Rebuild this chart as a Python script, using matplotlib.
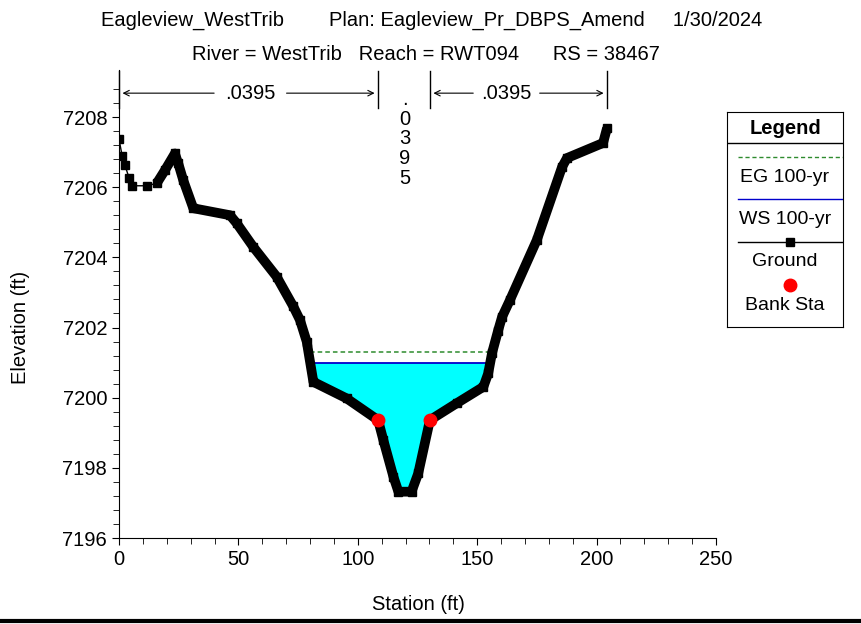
import numpy as np
import matplotlib.pyplot as plt
from matplotlib.lines import Line2D

plt.rcParams['font.family'] = ['Liberation Sans', 'DejaVu Sans']

# ground profile
station = [0, 1.3, 2.5, 4.2, 5.6, 11.6, 15.8, 19.3, 23.4, 24.8, 26.9, 31.1, 46.5, 49.3,
           56.2, 66.0, 73.0, 75.8, 78.6, 81.4, 95.3, 108.5, 110.7, 114.9, 117.0, 122.5,
           125.3, 130.2, 141.4, 152.6, 154.6, 156.2, 158.7, 160.4, 163.7, 175.0, 185.5,
           187.6, 202.7, 204.4]
ground = [7207.37, 7206.90, 7206.62, 7206.27, 7206.04, 7206.04, 7206.11, 7206.49, 7206.96,
          7206.68, 7206.20, 7205.40, 7205.20, 7204.97, 7204.30, 7203.45, 7202.60, 7202.21,
          7201.60, 7200.45, 7199.98, 7199.36, 7198.79, 7197.75, 7197.32, 7197.32, 7197.84,
          7199.36, 7199.84, 7200.31, 7200.69, 7201.27, 7201.90, 7202.30, 7202.78, 7204.50,
          7206.57, 7206.83, 7207.26, 7207.69]
bank_sta = [108.5, 130.2]
bank_elev = [7199.36, 7199.36]
ws_elev = 7201.00
eg_elev = 7201.31
ws_range = [80.7, 155.4]
eg_range = [80.0, 155.8]
n_value = '.0395'
lob_range = [0, 108.5]
rob_range = [130.2, 204.4]

fig = plt.figure(figsize=(8.61, 6.24), dpi=100)
ax = fig.add_axes([119 / 861, 1 - 538 / 624, 597 / 861, 468 / 624])

st = np.array(station)
gr = np.array(ground)
mask = (st >= ws_range[0] - 1) & (st <= ws_range[1] + 1)
ax.fill_between(st[mask], gr[mask], ws_elev, where=gr[mask] <= ws_elev,
                interpolate=True, color='#00ffff', lw=0, zorder=1)
ax.plot(eg_range, [eg_elev, eg_elev], color='#2e8b2e', ls=(0, (3, 2)), lw=1.1, zorder=2)
ax.plot(ws_range, [ws_elev, ws_elev], color='#0000cc', lw=1.3, zorder=2)
ax.plot(st[6:], gr[6:], color='black', lw=7, solid_capstyle='butt', zorder=3)
ax.plot(st, gr, color='black', lw=1, marker='s', ms=6, zorder=4)
ax.plot(bank_sta, bank_elev, 'o', color='red', ms=9, zorder=5)

ax.set_xlim(0, 250)
ax.set_ylim(7196, 7209.34)
ax.set_xticks(np.arange(0, 251, 50))
ax.set_xticks(np.arange(0, 251, 10), minor=True)
ax.set_yticks(np.arange(7196, 7209, 2))
ax.set_yticks(np.arange(7196, 7209, 0.4), minor=True)
ax.tick_params(which='major', length=5, labelsize=14.5, direction='out')
ax.tick_params(which='minor', length=4, direction='out')
ax.spines['top'].set_visible(False)
ax.spines['right'].set_visible(False)
ax.set_xlabel('Station (ft)', fontsize=14.5)
ax.set_ylabel('Elevation (ft)', fontsize=14.5)
ax.xaxis.set_label_coords(0.5008, -0.122)
ax.yaxis.set_label_coords(-0.149, 0.45)

# Manning's n annotation
y_arrow = 7208.68
for x0, x1, tl, tr in [(lob_range[0], lob_range[1], 41.0, 69.0), (rob_range[0], rob_range[1], 149.5, 175.0)]:
    for xv in (x0, x1):
        ax.plot([xv, xv], [7208.26, 7209.3], color='black', lw=1, clip_on=False)
    ax.text((tl + tr) / 2, y_arrow, n_value, ha='center', va='center', fontsize=14.5)
    ax.annotate('', xy=(x0 + 0.3, y_arrow), xytext=(tl, y_arrow),
                arrowprops=dict(arrowstyle='->', lw=0.8, color='black'), annotation_clip=False)
    ax.annotate('', xy=(x1 - 0.3, y_arrow), xytext=(tr, y_arrow),
                arrowprops=dict(arrowstyle='->', lw=0.8, color='black'), annotation_clip=False)
ax.text(119.8, 7208.78, '\n'.join(n_value), ha='center', va='top', fontsize=14.5, linespacing=1.06)

fig.text(432 / 861, 1 - 20 / 624,
         'Eagleview_WestTrib        Plan: Eagleview_Pr_DBPS_Amend     1/30/2024',
         ha='center', va='center', fontsize=14.5)
fig.text(426 / 861, 1 - 55 / 624,
         'River = WestTrib   Reach = RWT094      RS = 38467',
         ha='center', va='center', fontsize=14.5)

# legend box
lg = fig.add_axes([727 / 861, 1 - 327 / 624, 116 / 861, 215 / 624])
lg.set_xlim(727, 843)
lg.set_ylim(327, 112)
lg.set_xticks([])
lg.set_yticks([])
lg.plot([727, 843], [143, 143], color='black', lw=1)
lg.text(785, 128, 'Legend', ha='center', va='center', fontsize=14.5, fontweight='bold')
lg.plot([738, 843], [157, 157], color='#2e8b2e', ls=(0, (3, 2)), lw=1)
lg.text(785, 178, 'EG 100-yr', ha='center', va='center', fontsize=14)
lg.plot([738, 843], [199, 199], color='#0000cc', lw=1)
lg.text(785, 219, 'WS 100-yr', ha='center', va='center', fontsize=14)
lg.plot([738, 843], [242, 242], color='black', lw=1)
lg.plot([790], [242], 's', color='black', ms=6)
lg.text(785, 262, 'Ground', ha='center', va='center', fontsize=14)
lg.plot([790], [285], 'o', color='red', ms=9)
lg.text(785, 306, 'Bank Sta', ha='center', va='center', fontsize=14)

fig.add_artist(Line2D([0, 1], [1 - 621 / 624, 1 - 621 / 624], color='black', lw=3))

plt.savefig('out.png', dpi=100)
